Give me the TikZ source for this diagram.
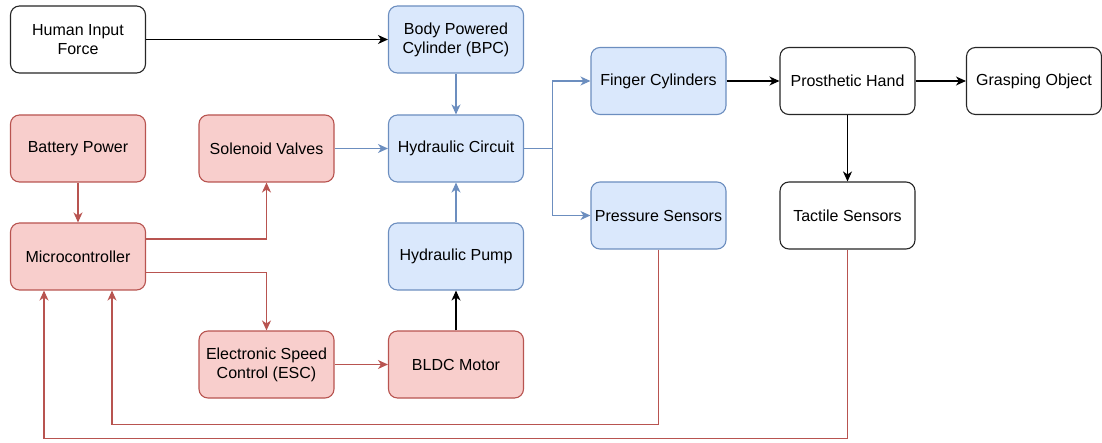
\documentclass[tikz,border=0pt]{standalone}
\usepackage{fontspec}
\setmainfont{Liberation Sans}
\usepackage{tikz}
\usetikzlibrary{shapes, positioning, arrows.meta}

\definecolor{bluefill}{HTML}{DAE8FC}
\definecolor{blueline}{HTML}{6C8EBF}
\definecolor{redfill}{HTML}{F8CECC}
\definecolor{redline}{HTML}{B85450}

\begin{document}
\begin{tikzpicture}[x=1pt, y=-1pt,
    every node/.style={rectangle, rounded corners=9pt, draw, line width=1.1pt,
        minimum width=135pt, minimum height=67pt, align=center,
        font=\fontsize{16}{19}\selectfont},
    blk/.style={fill=white, draw=black!85},
    hyd/.style={fill=bluefill, draw=blueline},
    elec/.style={fill=redfill, draw=redline},
    >={Stealth[length=10pt, width=9pt, inset=3pt]}]
        \useasboundingbox (0,0) rectangle (1102,443);
        % mechanical path
        \node[blk] (human) at (78, 39.5) {Human Input\\Force};
        \node[hyd] (bpc) at (456, 39.5) {Body Powered\\Cylinder (BPC)};
        \node[hyd] (finger) at (658.5, 81) {Finger Cylinders};
        \node[blk] (hand) at (847.5, 81) {Prosthetic Hand};
        \node[blk] (grasp) at (1034, 81) {Grasping Object};
        \node[hyd] (circuit) at (456, 148.5) {Hydraulic Circuit};
        \node[hyd] (pressure) at (658.5, 215.5) {Pressure Sensors};
        \node[blk] (tactile) at (847.5, 215.5) {Tactile Sensors};
        \node[hyd] (pump) at (456, 256.5) {Hydraulic Pump};
        % electronics
        \node[elec] (battery) at (78, 148.5) {Battery Power};
        \node[elec] (solenoid) at (266.5, 148.5) {Solenoid Valves};
        \node[elec] (micro) at (78, 256.5) {Microcontroller};
        \node[elec] (esc) at (266.5, 364.5) {Electronic Speed\\Control (ESC)};
        \node[elec] (bldc) at (456, 364.5) {BLDC Motor};

        \draw[->, line width=1.1pt] (human) -- (bpc);
        \draw[->, line width=1.1pt, blueline] (bpc) -- (circuit);
        \draw[->, line width=1.1pt, blueline] (solenoid) -- (circuit);
        \draw[->, line width=1.1pt, blueline] (pump) -- (circuit);
        \draw[->, line width=1.1pt, blueline] (circuit.east) -- ++(28,0) |- (finger.west);
        \draw[->, line width=1.1pt, blueline] (circuit.east) -- ++(28,0) |- (pressure.west);
        \draw[->, line width=1.1pt] (finger) -- (hand);
        \draw[->, line width=1.1pt] (hand) -- (grasp);
        \draw[->, line width=1.1pt] (hand) -- (tactile);
        \draw[->, line width=1.1pt] (bldc) -- (pump);

        \draw[->, line width=1.1pt, redline] (battery) -- (micro);
        \draw[->, line width=1.1pt, redline] ([yshift=17.5pt]micro.east) -| (solenoid.south);
        \draw[->, line width=1.1pt, redline] ([yshift=-16pt]micro.east) -| (esc.north);
        \draw[->, line width=1.1pt, redline] (esc) -- (bldc);
        \draw[->, line width=1.1pt, redline] (pressure.south) -- ++(0,175) -| ([xshift=34pt]micro.south);
        \draw[->, line width=1.1pt, redline] (tactile.south) -- ++(0,189) -| ([xshift=-34pt]micro.south);
    \end{tikzpicture}
\end{document}
